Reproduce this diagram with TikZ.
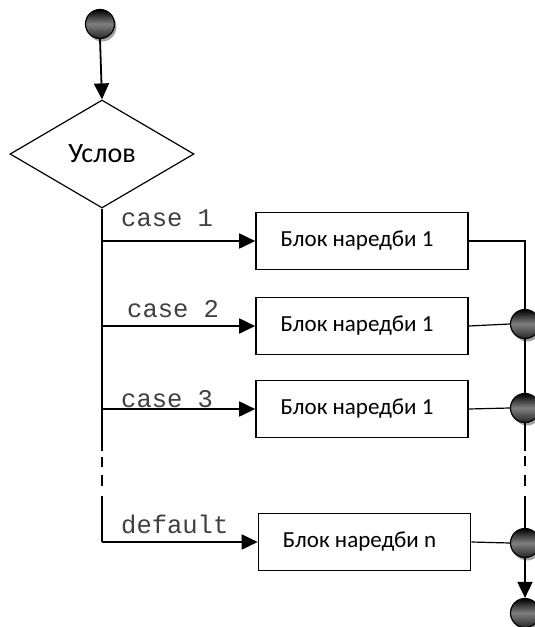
\documentclass[tikz,border=0pt]{standalone}
\usepackage{fontspec}
\setmainfont{Carlito}
\newfontfamily\monof{Liberation Mono}
\usetikzlibrary{shapes.geometric,arrows.meta,shadows}
\begin{document}
\begin{tikzpicture}[x=1pt,y=-1pt,
  ball/.style={circle, draw=black, line width=1.2pt, minimum size=29pt, inner sep=0pt,
    top color=black, bottom color=black!85, middle color=black!50,
    drop shadow={shadow xshift=2pt, shadow yshift=-3pt, fill=black!45, opacity=0.8}},
  blk/.style={draw, line width=1.6pt, minimum width=212pt, minimum height=57pt, inner sep=0pt,
    font=\fontsize{23}{25}\selectfont},
  cond/.style={diamond, draw, line width=1.2pt, minimum width=184pt, minimum height=108pt,
    inner sep=0pt, aspect=1.7, font=\fontsize{28}{30}\selectfont},
  lbl/.style={anchor=base west, inner sep=0pt, text=black!75, font=\monof\fontsize{25.5}{27}\selectfont},
  trunk/.style={line width=1.8pt},
  rtrunk/.style={line width=2pt},
  arr/.style={line width=1.8pt, -{Triangle[length=16pt,width=15pt]}},
  thin/.style={line width=1.2pt}]
\useasboundingbox (0,0) rectangle (535,627);

% start
\node[ball] (s) at (100,24) {};
\node[cond] (c) at (102,154) {Услов};
\draw[arr] (s.south) -- (c.north);

% boxes
\node[blk] (b1) at (362,241) {\hspace*{-10pt}Блок наредби 1};
\node[blk] (b2) at (362,326) {\hspace*{-10pt}Блок наредби 1};
\node[blk] (b3) at (362,409) {\hspace*{-10pt}Блок наредби 1};
\node[blk] (b4) at (364.5,542) {\hspace*{-10pt}Блок наредби n};

% trunk coordinates
\coordinate (t1) at (102,241);
\coordinate (t2) at (102,326);
\coordinate (t3) at (102,409);
\coordinate (ta) at (102,451);
\coordinate (da1) at (102,457);
\coordinate (da2) at (102,467);
\coordinate (db1) at (102,475);
\coordinate (db2) at (102,486);
\coordinate (tb) at (102,496);
\coordinate (t4) at (102,542);

\draw[trunk] (c.south) -- (ta);
\draw[trunk] (da1) -- (da2);
\draw[trunk] (db1) -- (db2);
\draw[trunk] (tb) -- (t4);

\draw[arr] (t1) -- (b1.west);
\draw[arr] (t2) -- (b2.west);
\draw[arr] (t3) -- (b3.west);
\draw[arr] (t4) -- (b4.west);

% labels
\node[lbl] (l1) at (121,226) {case 1};
\node[lbl] (l2) at (127,317) {case 2};
\node[lbl] (l3) at (121,407) {case 3};
\node[lbl] (l4) at (121,533) {default};

% right side
\node[ball] (r2) at (525,324) {};
\node[ball] (r3) at (525,408) {};
\node[ball] (r4) at (525,543) {};
\node[ball] (e) at (525,613) {};

\coordinate (k1) at (525,241);
\coordinate (ra) at (525,451);
\coordinate (rd1) at (525,456);
\coordinate (rd2) at (525,466);
\coordinate (re1) at (525,475);
\coordinate (re2) at (525,486);
\coordinate (rb) at (525,496);

\draw[thin] (b1.east) -- (k1) -- (r2.north);
\draw[thin] (b2.east) -- (r2.west);
\draw[thin] (b3.east) -- (r3.west);
\draw[thin] (b4.east) -- (r4.west);
\draw[thin] (r2.south) -- (r3.north);
\draw[rtrunk] (r3.south) -- (ra);
\draw[rtrunk] (rd1) -- (rd2);
\draw[rtrunk] (re1) -- (re2);
\draw[rtrunk] (rb) -- (r4.north);
\draw[arr] (r4.south) -- (e.north);
\end{tikzpicture}
\end{document}
